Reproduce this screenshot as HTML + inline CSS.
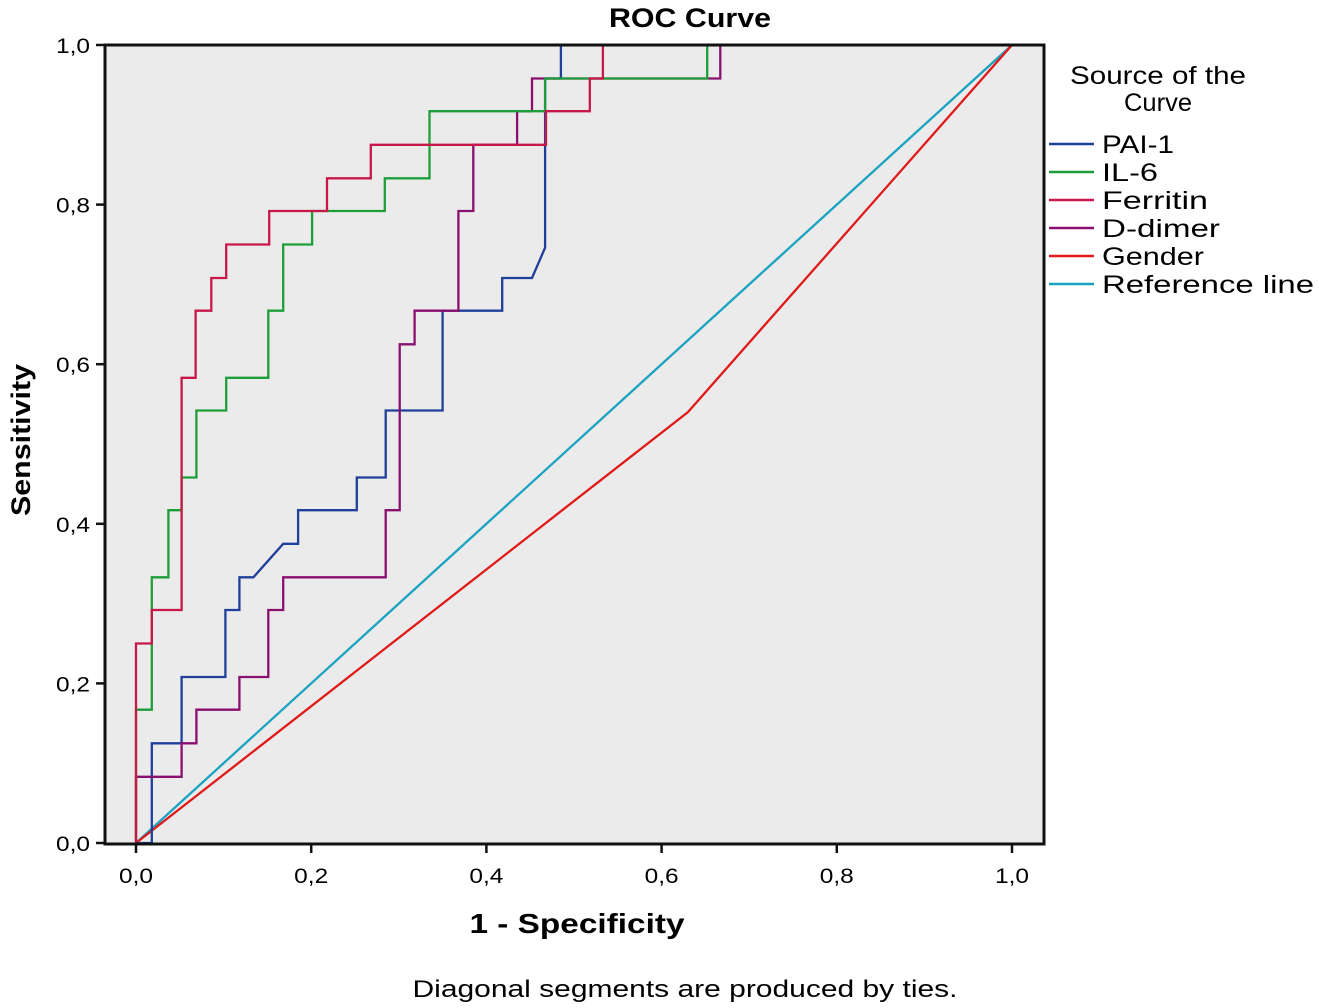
<!DOCTYPE html>
<html><head><meta charset="utf-8"><style>
html,body{margin:0;padding:0;background:#fff;}
svg{display:block;font-family:"Liberation Sans",sans-serif;}
</style></head><body>
<svg id="chart" width="1319" height="1008" viewBox="0 0 1319 1008">
  <rect x="105" y="45" width="939" height="798" fill="#ebebeb"/>
  <g id="series"></g>
  <rect x="105" y="45" width="939" height="799" fill="none" stroke="#111" stroke-width="3"/>
  <g id="axes"></g>
  <text x="690" y="27" text-anchor="middle" font-size="27" font-weight="bold" textLength="162" lengthAdjust="spacingAndGlyphs">ROC Curve</text>
  <text x="577" y="933" text-anchor="middle" font-size="28" font-weight="bold" textLength="215" lengthAdjust="spacingAndGlyphs">1 - Specificity</text>
  <text transform="translate(30,440) rotate(-90)" text-anchor="middle" font-size="27" font-weight="bold" textLength="152" lengthAdjust="spacingAndGlyphs">Sensitivity</text>
  <text x="685" y="997" text-anchor="middle" font-size="24" textLength="545" lengthAdjust="spacingAndGlyphs">Diagonal segments are produced by ties.</text>
  <text x="1158" y="84" text-anchor="middle" font-size="25" textLength="176" lengthAdjust="spacingAndGlyphs">Source of the</text>
  <text x="1158" y="111" text-anchor="middle" font-size="25" textLength="68" lengthAdjust="spacingAndGlyphs">Curve</text>
  <g id="legend"></g>
</svg>
<script>
const ticks = [0, 0.2, 0.4, 0.6, 0.8, 1.0];
const tickLabels = ["0,0", "0,2", "0,4", "0,6", "0,8", "1,0"];
const seriesNames = ["PAI-1", "IL-6", "Ferritin", "D-dimer", "Gender", "Reference line"];
const seriesColors = ["#1f3f9a", "#1e9e3a", "#c8184a", "#8a1070", "#e01a1a", "#1aa3c0"];
const pai1X = [0, 0.018, 0.018, 0.052, 0.052, 0.102, 0.102, 0.118, 0.118, 0.134, 0.168, 0.185, 0.185, 0.252, 0.252, 0.285, 0.285, 0.35, 0.35, 0.418, 0.418, 0.452, 0.467, 0.467, 0.485, 0.485, 1];
const pai1Y = [0, 0, 0.125, 0.125, 0.208, 0.208, 0.292, 0.292, 0.333, 0.333, 0.375, 0.375, 0.417, 0.417, 0.458, 0.458, 0.542, 0.542, 0.667, 0.667, 0.708, 0.708, 0.746, 0.958, 0.958, 1, 1];
const il6X = [0, 0, 0.018, 0.018, 0.037, 0.037, 0.052, 0.052, 0.069, 0.069, 0.103, 0.103, 0.151, 0.151, 0.168, 0.168, 0.201, 0.201, 0.284, 0.284, 0.335, 0.335, 0.467, 0.467, 0.652, 0.652, 1];
const il6Y = [0, 0.167, 0.167, 0.333, 0.333, 0.417, 0.417, 0.458, 0.458, 0.542, 0.542, 0.583, 0.583, 0.667, 0.667, 0.75, 0.75, 0.792, 0.792, 0.833, 0.833, 0.917, 0.917, 0.958, 0.958, 1, 1];
const ferritinX = [0, 0, 0.018, 0.018, 0.052, 0.052, 0.068, 0.068, 0.086, 0.086, 0.103, 0.103, 0.152, 0.152, 0.218, 0.218, 0.268, 0.268, 0.468, 0.468, 0.518, 0.518, 0.533, 0.533, 1];
const ferritinY = [0, 0.25, 0.25, 0.292, 0.292, 0.583, 0.583, 0.667, 0.667, 0.708, 0.708, 0.75, 0.75, 0.792, 0.792, 0.833, 0.833, 0.875, 0.875, 0.917, 0.917, 0.958, 0.958, 1, 1];
const ddimerX = [0, 0, 0.052, 0.052, 0.069, 0.069, 0.118, 0.118, 0.151, 0.151, 0.168, 0.168, 0.285, 0.285, 0.301, 0.301, 0.318, 0.318, 0.368, 0.368, 0.385, 0.385, 0.435, 0.435, 0.452, 0.452, 0.667, 0.667, 1];
const ddimerY = [0, 0.083, 0.083, 0.125, 0.125, 0.167, 0.167, 0.208, 0.208, 0.292, 0.292, 0.333, 0.333, 0.417, 0.417, 0.625, 0.625, 0.667, 0.667, 0.792, 0.792, 0.875, 0.875, 0.917, 0.917, 0.958, 0.958, 1, 1];
const genderX = [0, 0.63, 1];
const genderY = [0, 0.54, 1];
const refX = [0, 1];
const refY = [0, 1];

const X0 = 136, XW = 876, Y0 = 843, YH = 798;
const sx = v => X0 + v * XW;
const sy = v => Y0 - v * YH;
const NS = "http://www.w3.org/2000/svg";
const seriesG = document.getElementById("series");
const axesG = document.getElementById("axes");
const legendG = document.getElementById("legend");

const allX = [pai1X, il6X, ferritinX, ddimerX, genderX, refX];
const allY = [pai1Y, il6Y, ferritinY, ddimerY, genderY, refY];
const order = [5, 4, 0, 3, 1, 2];
order.forEach(i => {
  const p = document.createElementNS(NS, "polyline");
  p.setAttribute("points", allX[i].map((x, k) => sx(x).toFixed(1) + "," + sy(allY[i][k]).toFixed(1)).join(" "));
  p.setAttribute("fill", "none");
  p.setAttribute("stroke", seriesColors[i]);
  p.setAttribute("stroke-width", "2.3");
  
  
  seriesG.appendChild(p);
});

ticks.forEach((t, i) => {
  const xt = document.createElementNS(NS, "line");
  xt.setAttribute("x1", sx(t)); xt.setAttribute("x2", sx(t));
  xt.setAttribute("y1", 844); xt.setAttribute("y2", 853);
  xt.setAttribute("stroke", "#111"); xt.setAttribute("stroke-width", "2.5");
  
  
  axesG.appendChild(xt);
  const xl = document.createElementNS(NS, "text");
  xl.setAttribute("x", sx(t)); xl.setAttribute("y", 883);
  xl.setAttribute("text-anchor", "middle"); xl.setAttribute("font-size", "21");
  xl.setAttribute("textLength", "34"); xl.setAttribute("lengthAdjust", "spacingAndGlyphs");
  xl.textContent = tickLabels[i];
  
  
  axesG.appendChild(xl);
  const yt = document.createElementNS(NS, "line");
  yt.setAttribute("x1", 96); yt.setAttribute("x2", 105);
  yt.setAttribute("y1", sy(t)); yt.setAttribute("y2", sy(t));
  yt.setAttribute("stroke", "#111"); yt.setAttribute("stroke-width", "2.5");
  
  
  axesG.appendChild(yt);
  const yl = document.createElementNS(NS, "text");
  yl.setAttribute("x", 90); yl.setAttribute("y", sy(t) + 8);
  yl.setAttribute("text-anchor", "end"); yl.setAttribute("font-size", "21");
  yl.setAttribute("textLength", "34"); yl.setAttribute("lengthAdjust", "spacingAndGlyphs");
  yl.textContent = tickLabels[i];
  
  
  axesG.appendChild(yl);
});

const legendWidths = [72, 56, 106, 118, 102, 212];
seriesNames.forEach((n, i) => {
  const y = 144 + i * 28;
  const l = document.createElementNS(NS, "line");
  l.setAttribute("x1", 1049); l.setAttribute("x2", 1094);
  l.setAttribute("y1", y); l.setAttribute("y2", y);
  l.setAttribute("stroke", seriesColors[i]); l.setAttribute("stroke-width", "2.5");
  
  
  legendG.appendChild(l);
  const t = document.createElementNS(NS, "text");
  t.setAttribute("x", 1102); t.setAttribute("y", y + 9);
  t.setAttribute("font-size", "25");
  t.setAttribute("textLength", legendWidths[i]);
  t.setAttribute("lengthAdjust", "spacingAndGlyphs");
  t.textContent = n;
  
  
  legendG.appendChild(t);
});
</script>
</body></html>
